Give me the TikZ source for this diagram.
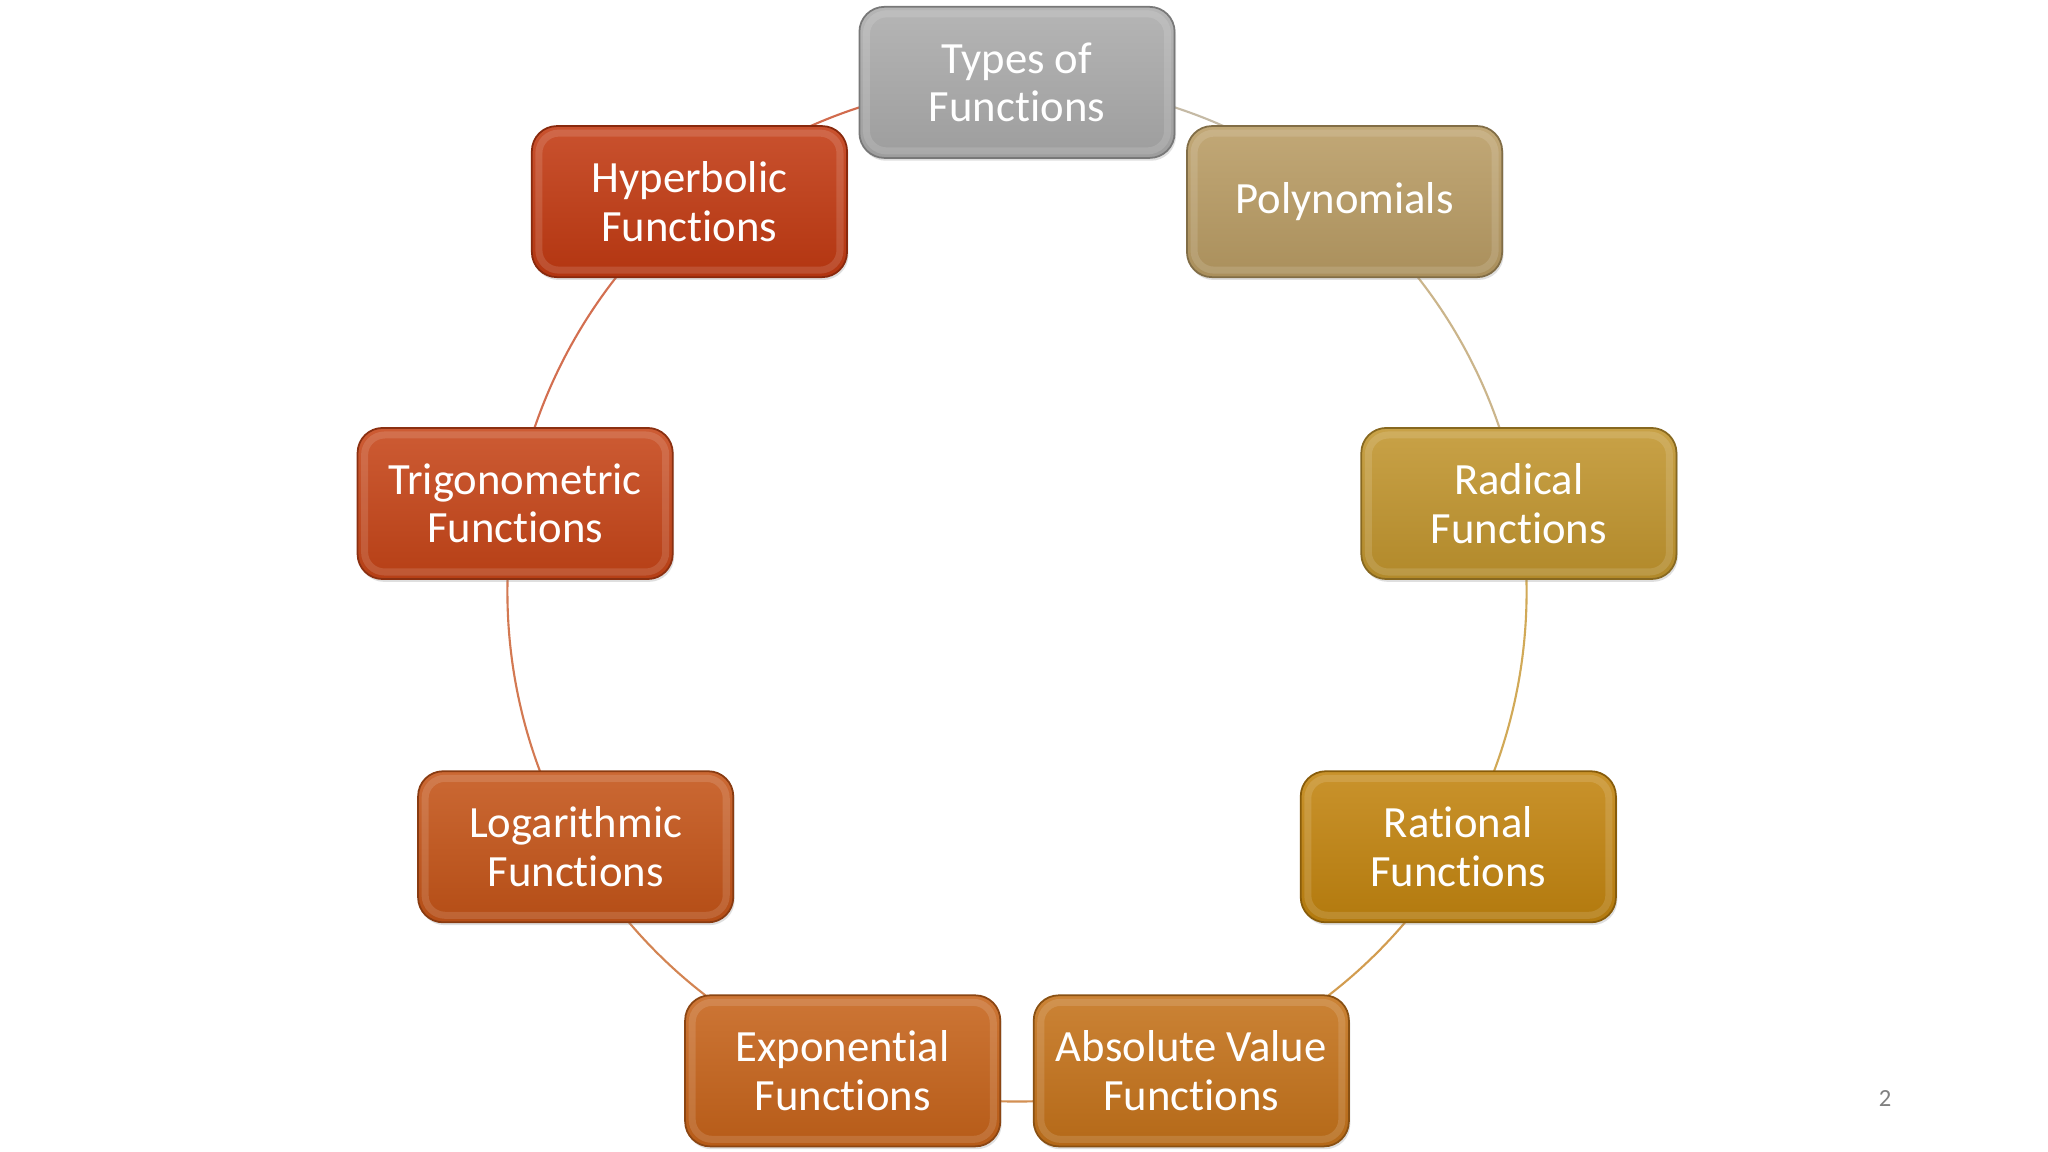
\documentclass[tikz,border=0pt]{standalone}
\usepackage{fontspec}
\setmainfont{Carlito}[Ligatures=NoCommon]
\usetikzlibrary{backgrounds,shadows}
\definecolor{cGray}{HTML}{ABABAB}
\definecolor{cPoly}{HTML}{B99C64}
\definecolor{cRad}{HTML}{C1952E}
\definecolor{cRat}{HTML}{C2840F}
\definecolor{cAbs}{HTML}{C4721A}
\definecolor{cExp}{HTML}{C6631A}
\definecolor{cLog}{HTML}{C45418}
\definecolor{cTrig}{HTML}{C64518}
\definecolor{cHyp}{HTML}{C23A12}
\tikzset{
  fnbox/.style={rectangle, rounded corners=0.25cm, minimum width=3.15cm, minimum height=1.51cm,
    top color=#1!88!white, bottom color=#1!92!black, draw=#1!70!black, line width=0.5pt,
    text=white, align=center, inner sep=0pt,
    font=\fontsize{12.7pt}{13.8pt}\selectfont,
    drop shadow={shadow xshift=0.4pt, shadow yshift=-0.8pt, opacity=0.25},
    path picture={\draw[white, opacity=0.13, line width=2pt, rounded corners=0.2cm]
      ([shift={(2pt,2pt)}]path picture bounding box.south west) rectangle
      ([shift={(-2pt,-2pt)}]path picture bounding box.north east);}},
  link/.style={draw=#1!75!white, line width=0.6pt, bend left=20, looseness=0.88}
}
\begin{document}
\begin{tikzpicture}[x=0.01cm, y=0.01cm]
\useasboundingbox (0,0) rectangle (2048,1152);
\def\cx{1017}\def\cy{560}\def\rr{509.6}
\node[fnbox=cGray] (t) at ({\cx+\rr*cos(90)},{\cy+\rr*sin(90)}) {Types of\\Functions};
\node[fnbox=cPoly] (p) at ({\cx+\rr*cos(50)},{\cy+\rr*sin(50)}) {Polynomials};
\node[fnbox=cRad] (r) at ({\cx+\rr*cos(10)},{\cy+\rr*sin(10)}) {Radical\\Functions};
\node[fnbox=cRat] (q) at ({\cx+\rr*cos(-30)},{\cy+\rr*sin(-30)}) {Rational\\Functions};
\node[fnbox=cAbs] (a) at ({\cx+\rr*cos(-70)},{\cy+\rr*sin(-70)}) {Absolute Value\\Functions};
\node[fnbox=cExp] (e) at ({\cx+\rr*cos(-110)},{\cy+\rr*sin(-110)}) {Exponential\\Functions};
\node[fnbox=cLog] (l) at ({\cx+\rr*cos(-150)},{\cy+\rr*sin(-150)}) {Logarithmic\\Functions};
\node[fnbox=cTrig] (g) at ({\cx+\rr*cos(170)},{\cy+\rr*sin(170)}) {Trigonometric\\Functions};
\node[fnbox=cHyp] (h) at ({\cx+\rr*cos(130)},{\cy+\rr*sin(130)}) {Hyperbolic\\Functions};
\node[text=black!50, font=\fontsize{7pt}{8pt}\selectfont] (num) at (1885,53) {2};
\begin{scope}[on background layer]
\fill[white] (0,0) rectangle (2048,1152);
\draw[link=cGray!50!cPoly] (t.center) to (p.center);
\draw[link=cPoly] (p.center) to (r.center);
\draw[link=cRad!50!cRat] (r.center) to (q.center);
\draw[link=cRat!50!cAbs] (q.center) to (a.center);
\draw[link=cAbs!50!cExp] (a.center) to (e.center);
\draw[link=cExp!50!cLog] (e.center) to (l.center);
\draw[link=cLog!50!cTrig] (l.center) to (g.center);
\draw[link=cTrig!50!cHyp] (g.center) to (h.center);
\draw[link=cHyp] (h.center) to (t.center);
\end{scope}
\end{tikzpicture}
\end{document}
